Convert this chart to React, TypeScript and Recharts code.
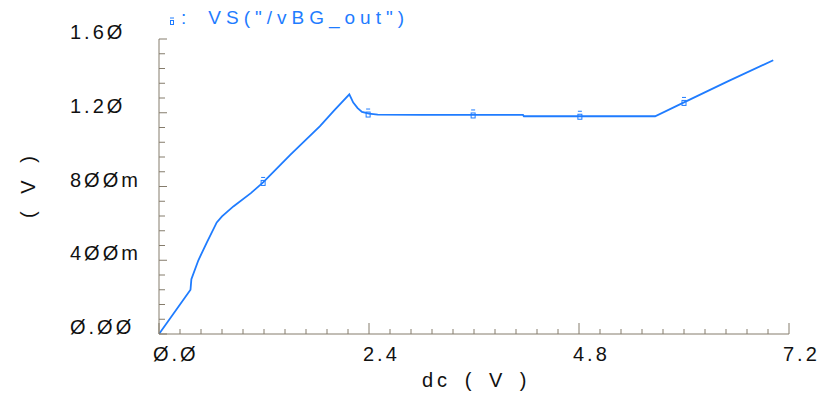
import { ComposedChart, Line, Scatter, XAxis, YAxis } from "recharts";

// dc sweep (V) and VS("/vBG_out") (V)
const sweepV = [
  0, 0.36, 0.37, 0.45, 0.55, 0.66, 0.72, 0.85, 1.05, 1.19, 1.5, 1.84, 2.0,
  2.175, 2.22, 2.27, 2.32, 2.4, 2.5, 3.0, 3.6, 4.16, 4.17, 4.8, 5.67, 6.0, 6.5,
  7.02,
];
const vbgOut = [
  0, 0.24, 0.297, 0.4, 0.5, 0.605, 0.638, 0.692, 0.764, 0.822, 0.972, 1.127,
  1.212, 1.3, 1.255, 1.225, 1.205, 1.195, 1.19, 1.188, 1.188, 1.188, 1.181,
  1.181, 1.181, 1.256, 1.37, 1.485,
];

// symbol markers drawn along the trace
const markerV = [1.19, 2.39, 3.59, 4.81, 6.0];
const markerOut = [0.822, 1.193, 1.188, 1.181, 1.256];

const xMajor = [0, 2.4, 4.8, 7.2];
const xTickLabels = ["Ø.Ø", "2.4", "4.8", "7.2"];
const yMajor = [0, 0.4, 0.8, 1.2, 1.6];
const yTickLabels = ["Ø.ØØ", "4ØØm", "8ØØm", "1.2Ø", "1.6Ø"];

const traceName = 'VS("/vBG_out")';

const BLUE = "#1f7cff";
const AXIS = "#857c6c";
const FONT = "'Liberation Sans', Arial, sans-serif";

const AXIS_X = 159;
const AXIS_Y = 334;

// minor ticks every 0.24 V on x, 0.08 V on y
const xTicks = Array.from({ length: 31 }, (_, i) => +(i * 0.24).toFixed(2));
const yTicks = Array.from({ length: 21 }, (_, i) => +(i * 0.08).toFixed(2));

const curve = sweepV.map((x, i) => ({ x, y: vbgOut[i] }));
const markers = markerV.map((x, i) => ({ x, y: markerOut[i] }));

const majorIndex = (list: number[], v: number) =>
  list.findIndex((m) => Math.abs(m - v) < 1e-6);

function YTick(props: any) {
  const { y, payload } = props;
  const idx = majorIndex(yMajor, payload.value);
  const major = idx >= 0;
  return (
    <g>
      <line x1={AXIS_X} x2={AXIS_X + (major ? 8 : 6)} y1={y} y2={y} stroke={AXIS} />
      {major && (
        <text x={70} y={y} fontSize={20} fontFamily={FONT} fill="#111" letterSpacing={3}>
          {yTickLabels[idx]}
        </text>
      )}
    </g>
  );
}

function XTick(props: any) {
  const { x, payload } = props;
  const idx = majorIndex(xMajor, payload.value);
  const major = idx >= 0;
  return (
    <g>
      <line x1={x} x2={x} y1={AXIS_Y} y2={AXIS_Y - (major ? 11 : 5)} stroke={AXIS} />
      {major && (
        <text x={x - 6} y={361} fontSize={20} fontFamily={FONT} fill="#111" letterSpacing={3}>
          {xTickLabels[idx]}
        </text>
      )}
    </g>
  );
}

function Marker(props: any) {
  const { cx, cy } = props;
  return (
    <g stroke={BLUE} fill="none" strokeWidth={1}>
      <line x1={cx - 2} x2={cx + 2} y1={cy - 5} y2={cy - 5} />
      <rect x={cx - 2} y={cy - 2} width={4} height={5} />
    </g>
  );
}

export default function App() {
  return (
    <div style={{ position: "absolute", left: 0, top: 0, width: 823, height: 396, background: "#fff" }}>
      <ComposedChart
        width={823}
        height={396}
        margin={{ top: 39, right: 34, left: 158, bottom: 61 }}
      >
        <XAxis
          dataKey="x"
          type="number"
          domain={[0, 7.2]}
          ticks={xTicks}
          interval={0}
          height={1}
          axisLine={{ stroke: AXIS }}
          tickLine={false}
          tick={<XTick />}
          allowDataOverflow
        />
        <YAxis
          dataKey="y"
          type="number"
          domain={[0, 1.6]}
          ticks={yTicks}
          interval={0}
          width={1}
          axisLine={{ stroke: AXIS }}
          tickLine={false}
          tick={<YTick />}
          allowDataOverflow
        />
        <Line
          data={curve}
          dataKey="y"
          type="linear"
          stroke={BLUE}
          strokeWidth={1.8}
          dot={false}
          isAnimationActive={false}
        />
        <Scatter data={markers} dataKey="y" shape={<Marker />} isAnimationActive={false} />
      </ComposedChart>

      {/* legend */}
      <div
        style={{
          position: "absolute",
          left: 168,
          top: 6,
          fontFamily: FONT,
          fontSize: 19,
          color: BLUE,
          letterSpacing: 5,
          whiteSpace: "nowrap",
          lineHeight: "24px",
          display: "flex",
          alignItems: "center",
        }}
      >
        <svg width={10} height={20} style={{ marginTop: 2 }}>
          <line x1={2} x2={6} y1={9} y2={9} stroke={BLUE} />
          <rect x={2.5} y={11.5} width={3} height={4} stroke={BLUE} fill="none" />
        </svg>
        <span style={{ marginLeft: 3 }}>:</span>
        <span style={{ marginLeft: 17 }}>{traceName}</span>
      </div>

      {/* axis titles */}
      <svg width={823} height={396} style={{ position: "absolute", left: 0, top: 0, pointerEvents: "none" }}>
        <text
          x={422}
          y={387}
          fontSize={20}
          fontFamily={FONT}
          fill="#111"
          letterSpacing={4}
          wordSpacing={4}
        >
          dc ( V )
        </text>
        <text
          x={0}
          y={0}
          transform="translate(35,185) rotate(-90)"
          textAnchor="middle"
          fontSize={20}
          fontFamily={FONT}
          fill="#111"
          letterSpacing={4}
          wordSpacing={4}
        >
          ( V )
        </text>
      </svg>
    </div>
  );
}
